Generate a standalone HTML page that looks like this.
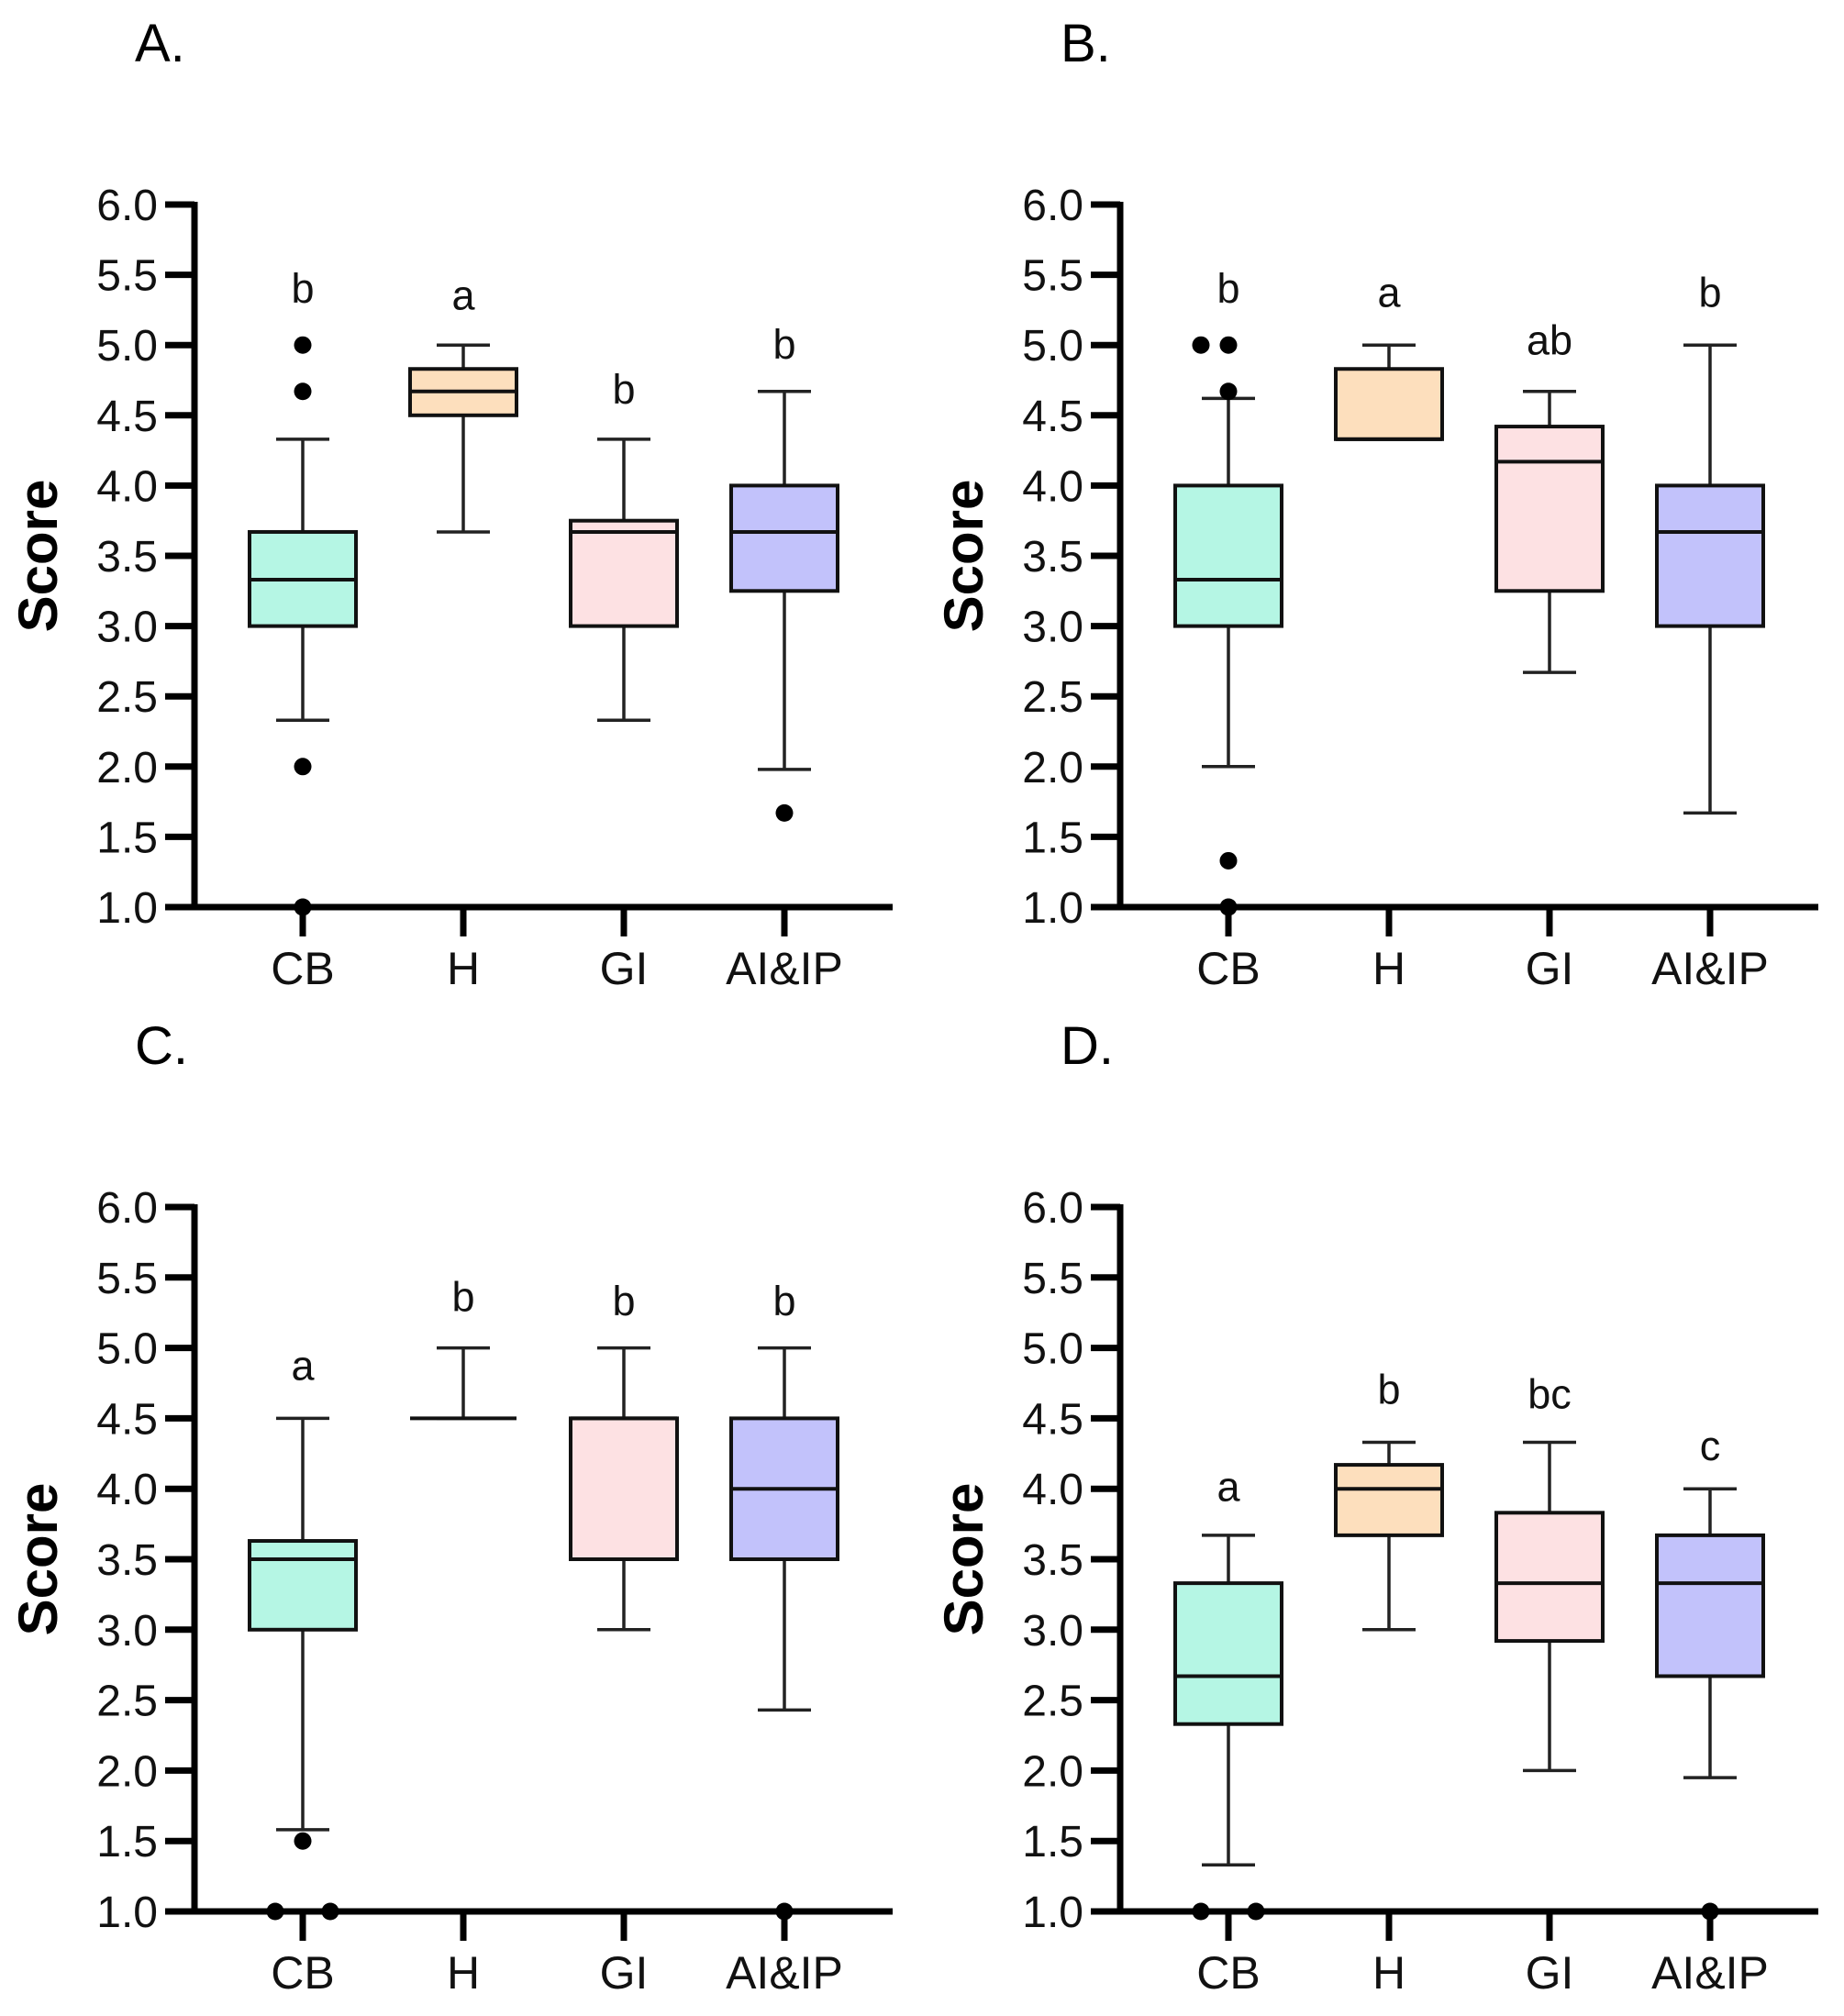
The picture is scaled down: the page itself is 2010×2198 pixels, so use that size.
<!DOCTYPE html>
<html><head><meta charset="utf-8"><style>
html,body{margin:0;padding:0;background:#fff;}
svg{display:block;font-family:"Liberation Sans",sans-serif;}
</style></head><body>
<svg id="chart" width="2010" height="2198" viewBox="0 0 2010 2198" xmlns="http://www.w3.org/2000/svg"></svg>
<script>
const categories = ["CB","H","GI","AI&IP"];
const colors = ["#b5f6e4","#fddfbd","#fde1e3","#c2c2fb"];
const panelLabels = ["A.","B.","C.","D."];
const yTicks = ["1.0","1.5","2.0","2.5","3.0","3.5","4.0","4.5","5.0","5.5","6.0"];
// [whiskerLow, q1, median, q3, whiskerHigh]
const statsA = [[2.33,3.0,3.33,3.67,4.33],[3.67,4.5,4.67,4.83,5.0],[2.33,3.0,3.67,3.75,4.33],[1.98,3.25,3.67,4.0,4.67]];
const statsB = [[2.0,3.0,3.33,4.0,4.62],[4.33,4.33,4.33,4.83,5.0],[2.67,3.25,4.17,4.42,4.67],[1.67,3.0,3.67,4.0,5.0]];
const statsC = [[1.58,3.0,3.5,3.63,4.5],[4.5,4.5,4.5,4.5,5.0],[3.0,3.5,4.5,4.5,5.0],[2.43,3.5,4.0,4.5,5.0]];
const statsD = [[1.33,2.33,2.67,3.33,3.67],[3.0,3.67,4.0,4.17,4.33],[2.0,2.92,3.33,3.83,4.33],[1.95,2.67,3.33,3.67,4.0]];
// outliers: [categoryIndex, value, side(-1,0,1)]
const outA = [[0,5.0,0],[0,4.67,0],[0,2.0,0],[0,1.0,0],[3,1.67,0]];
const outB = [[0,5.0,-1],[0,5.0,0],[0,4.67,0],[0,1.33,0],[0,1.0,0]];
const outC = [[0,1.5,0],[0,1.0,-1],[0,1.0,1],[3,1.0,0]];
const outD = [[0,1.0,-1],[0,1.0,1],[3,1.0,0]];
const lettersA = ["b","a","b","b"], letterYA = [5.40,5.35,4.68,5.00];
const lettersB = ["b","a","ab","b"], letterYB = [5.40,5.37,5.03,5.37];
const lettersC = ["a","b","b","b"], letterYC = [4.87,5.36,5.33,5.33];
const lettersD = ["a","b","bc","c"], letterYD = [4.01,4.70,4.67,4.30];

const panels = [
 {ax:212, top:223, bot:989, right:973, stats:statsA, out:outA, let:lettersA, ly:letterYA},
 {ax:1221, top:223, bot:989, right:1982, stats:statsB, out:outB, let:lettersB, ly:letterYB},
 {ax:212, top:1316, bot:2084, right:973, stats:statsC, out:outC, let:lettersC, ly:letterYC},
 {ax:1221, top:1316, bot:2084, right:1982, stats:statsD, out:outD, let:lettersD, ly:letterYD}
];
const svg = document.getElementById('chart');
const NS = "http://www.w3.org/2000/svg";
function mk(tag, attrs, parent){const e=document.createElementNS(NS,tag);for(const k in attrs)e.setAttribute(k,attrs[k]);parent.appendChild(e);return e;}

panels.forEach((p,pi)=>{
  const g = mk('g',{},svg);
  
  
  const y = v => p.bot - (v-1)/5*(p.bot-p.top);
  const x = i => p.ax + 118 + i*175;
  const pl = mk('text',{x:p.ax-65,y:p.top-156,'font-size':58},g); pl.textContent=panelLabels[pi];
  
  
  const yt = mk('text',{x:0,y:0,'font-size':60,'font-weight':'bold','text-anchor':'middle',transform:`translate(${p.ax-150},${(p.top+p.bot)/2}) rotate(-90)`},g);
  yt.textContent='Score';
  
  
  yTicks.forEach(t=>{
    const v=parseFloat(t);
    mk('line',{x1:p.ax-32,x2:p.ax,y1:y(v),y2:y(v),stroke:'#000','stroke-width':7},g);
    const tl=mk('text',{x:p.ax-40,y:y(v)+17,'font-size':48,'text-anchor':'end',fill:'#111'},g);
    tl.textContent=t;
    
    
  });
  const ya=mk('line',{x1:p.ax,x2:p.ax,y1:p.top-3,y2:p.bot+3,stroke:'#000','stroke-width':7},g);
  
  
  const xa=mk('line',{x1:p.ax-32,x2:p.right,y1:p.bot,y2:p.bot,stroke:'#000','stroke-width':7},g);
  
  
  categories.forEach((c,i)=>{
    const s=p.stats[i], cx=x(i), w=116;
    mk('line',{x1:cx,x2:cx,y1:p.bot,y2:p.bot+32,stroke:'#000','stroke-width':7},g);
    const cl=mk('text',{x:cx,y:p.bot+84,'font-size':50,'text-anchor':'middle',fill:'#111'},g);
    cl.textContent=c;
    
    
    const bg=mk('g',{},g);
    
    
    const st={stroke:'#222','stroke-width':3.5};
    mk('line',Object.assign({x1:cx,x2:cx,y1:y(s[0]),y2:y(s[1])},st),bg);
    mk('line',Object.assign({x1:cx,x2:cx,y1:y(s[3]),y2:y(s[4])},st),bg);
    mk('line',Object.assign({x1:cx-29,x2:cx+29,y1:y(s[0]),y2:y(s[0])},st),bg);
    mk('line',Object.assign({x1:cx-29,x2:cx+29,y1:y(s[4]),y2:y(s[4])},st),bg);
    mk('rect',{x:cx-w/2,y:y(s[3]),width:w,height:Math.max(0,y(s[1])-y(s[3])),fill:colors[i],stroke:'#111','stroke-width':4},bg);
    mk('line',{x1:cx-w/2,x2:cx+w/2,y1:y(s[2]),y2:y(s[2]),stroke:'#111','stroke-width':4},bg);
    const lt=mk('text',{x:cx,y:y(p.ly[i])+15,'font-size':45,'text-anchor':'middle',fill:'#111'},g);
    lt.textContent=p.let[i];
    
    
  });
  p.out.forEach(o=>{
    const d=mk('circle',{cx:x(o[0])+o[2]*30,cy:y(o[1]),r:9.5,fill:'#000'},g);
    
    
  });
});
</script>
</body></html>
